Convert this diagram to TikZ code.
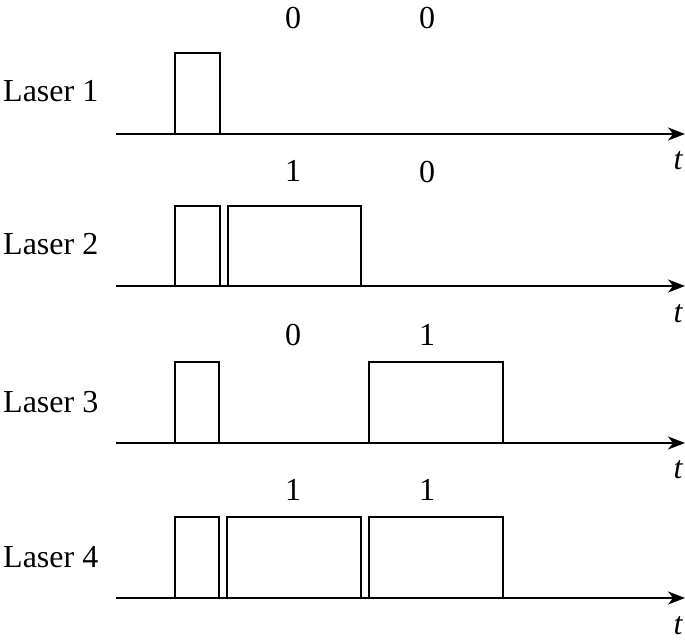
\documentclass[tikz,border=0pt]{standalone}
\usepackage{fontspec}
\setmainfont{Liberation Serif}
\usetikzlibrary{arrows.meta}
\begin{document}
\begin{tikzpicture}[x=1pt,y=-1pt,
  axis/.style={line width=1.8pt,-{Stealth[length=17pt,width=13pt,inset=5pt]}},
  pulse/.style={line width=1.8pt},
  lbl/.style={inner sep=0pt,font=\fontsize{32}{38}\selectfont},
  tl/.style={inner sep=0pt,font=\fontsize{32}{38}\selectfont\itshape}]
\useasboundingbox (0,0) rectangle (685,644);
% row 1
\coordinate (a1s) at (116,134); \coordinate (a1e) at (685,134);
\draw[axis] (a1s) -- (a1e);
\draw[pulse] (175,134) -- (175,53) -- (220,53) -- (220,134);
\node[lbl,anchor=base west] (l1) at (3,102) {Laser 1};
\node[lbl] (b11) at (293,18) {0};
\node[lbl] (b12) at (427,18) {0};
\node[tl] (t1) at (678,161) {t};
% row 2
\coordinate (a2s) at (116,286); \coordinate (a2e) at (685,286);
\draw[axis] (a2s) -- (a2e);
\draw[pulse] (175,286) -- (175,206) -- (220,206) -- (220,286);
\draw[pulse] (228,286) -- (228,206) -- (361,206) -- (361,286);
\node[lbl,anchor=base west] (l2) at (3,255) {Laser 2};
\node[lbl] (b21) at (293,171) {1};
\node[lbl] (b22) at (427,172) {0};
\node[tl] (t2) at (678,314) {t};
% row 3
\coordinate (a3s) at (116,443); \coordinate (a3e) at (685,443);
\draw[axis] (a3s) -- (a3e);
\draw[pulse] (175,443) -- (175,362) -- (219,362) -- (219,443);
\draw[pulse] (369,443) -- (369,362) -- (503,362) -- (503,443);
\node[lbl,anchor=base west] (l3) at (3,412) {Laser 3};
\node[lbl] (b31) at (293,335) {0};
\node[lbl] (b32) at (427,335) {1};
\node[tl] (t3) at (678,470) {t};
% row 4
\coordinate (a4s) at (116,598); \coordinate (a4e) at (685,598);
\draw[axis] (a4s) -- (a4e);
\draw[pulse] (175,598) -- (175,517) -- (219,517) -- (219,598);
\draw[pulse] (227,598) -- (227,517) -- (361,517) -- (361,598);
\draw[pulse] (369,598) -- (369,517) -- (503,517) -- (503,598);
\node[lbl,anchor=base west] (l4) at (3,567) {Laser 4};
\node[lbl] (b41) at (293,490) {1};
\node[lbl] (b42) at (427,490) {1};
\node[tl] (t4) at (678,626) {t};
\end{tikzpicture}
\end{document}
